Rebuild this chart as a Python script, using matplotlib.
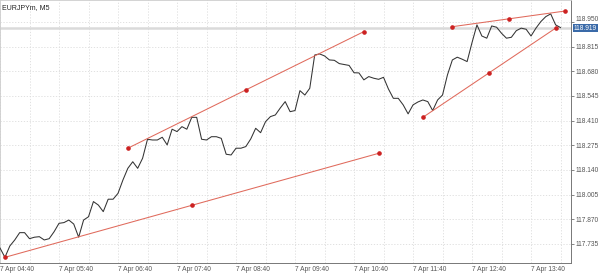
import numpy as np
import pandas as pd
import matplotlib
matplotlib.use('Agg')
import matplotlib.pyplot as plt
import matplotlib.transforms as mtransforms

plt.rcParams['font.family'] = ['Liberation Sans', 'DejaVu Sans']

symbol = "EURJPYm, M5"
start = "2025-04-07 04:40"

# closing prices, one per 5 minute bar
closes = [117.713, 117.662, 117.724, 117.757, 117.797, 117.797, 117.764, 117.772, 117.775, 117.757,
          117.764, 117.802, 117.848, 117.852, 117.866, 117.844, 117.772, 117.866, 117.884, 117.967,
          117.948, 117.912, 117.980, 117.980, 118.012, 118.085, 118.149, 118.185, 118.149, 118.204,
          118.308, 118.304, 118.304, 118.319, 118.277, 118.363, 118.350, 118.377, 118.363, 118.428,
          118.428, 118.308, 118.304, 118.322, 118.322, 118.313, 118.226, 118.222, 118.259, 118.259,
          118.268, 118.310, 118.368, 118.344, 118.404, 118.432, 118.441, 118.479, 118.514, 118.459,
          118.465, 118.574, 118.550, 118.587, 118.769, 118.775, 118.764, 118.742, 118.740, 118.722,
          118.717, 118.712, 118.672, 118.671, 118.633, 118.651, 118.642, 118.636, 118.647, 118.583,
          118.532, 118.532, 118.496, 118.447, 118.496, 118.512, 118.523, 118.514, 118.465, 118.523,
          118.550, 118.660, 118.742, 118.757, 118.746, 118.733, 118.837, 118.934, 118.873, 118.861,
          118.928, 118.921, 118.888, 118.861, 118.866, 118.902, 118.916, 118.910, 118.873, 118.916,
          118.952, 118.979, 118.994, 118.934, 118.919]
current_price = 118.919

# trend lines drawn by hand: (start time, start price, end time, end price)
trend_lines = [
    ("04:45", 117.662, "11:05", 118.231),
    ("06:50", 118.259, "10:50", 118.897),
    ("11:50", 118.428, "14:05", 118.916),
    ("12:20", 118.924, "14:15", 119.010),
]

yticks = [117.735, 117.870, 118.005, 118.140, 118.275, 118.410, 118.545, 118.680, 118.815, 118.950]

times = pd.date_range(start, periods=len(closes), freq="5min")
day = "2025-04-07 "

fig = plt.figure(figsize=(6.0, 2.78), dpi=100)
ax = fig.add_axes([0.0, 0.054, 0.9517, 0.946])

grid_kw = dict(color='#dcdcdc', linewidth=0.6, linestyle=(0, (1.5, 2)))

# grid: price ticks and every half hour
for v in yticks:
    ax.axhline(v, zorder=0, **grid_kw)
half_hours = pd.date_range(start, "2025-04-07 14:10", freq="30min")
for t in half_hours:
    ax.axvline(t, zorder=0, **grid_kw)

# current price line
ax.axhline(current_price, color='#dadada', linewidth=1.8, zorder=1)

ax.plot(times, closes, color='#333333', linewidth=0.75, zorder=3)

for t0, p0, t1, p1 in trend_lines:
    x0 = pd.Timestamp(day + t0)
    x1 = pd.Timestamp(day + t1)
    xm = x0 + (x1 - x0) / 2
    pm = (p0 + p1) / 2
    ax.plot([x0, x1], [p0, p1], color='#e06a5c', linewidth=0.75, zorder=4)
    ax.plot([x0, xm, x1], [p0, pm, p1], linestyle='none', marker='o',
            markersize=2.3, color='#cc2222', zorder=5)

ax.set_xlim(pd.Timestamp(start), pd.Timestamp(day + "14:20:40"))
ax.set_ylim(117.631, 119.070)

hours = pd.date_range(start, "2025-04-07 13:40", freq="60min")
ax.set_xticks(hours)
ax.set_xticklabels([t.strftime("7 Apr %H:%M") for t in hours], ha='left')
ax.set_yticks(yticks)
ax.set_yticklabels([f"{v:.3f}" for v in yticks])
ax.yaxis.tick_right()
ax.tick_params(axis='both', labelsize=4.8, colors='#555555', length=2, width=0.5, pad=1)
ax.tick_params(axis='x', length=0, pad=2)

# nudge the top price label up so the price tag does not hide it
top_lbl = ax.get_yticklabels()[-1]
top_lbl.set_transform(top_lbl.get_transform() +
                      mtransforms.ScaledTranslation(0, 2.5 / 72, fig.dpi_scale_trans))

for side in ['top', 'left']:
    ax.spines[side].set_color('#cccccc')
    ax.spines[side].set_linewidth(0.6)
for side in ['right', 'bottom']:
    ax.spines[side].set_color('#777777')
    ax.spines[side].set_linewidth(0.7)

ax.text(0.004, 0.985, symbol, transform=ax.transAxes, fontsize=5,
        color='#222222', ha='left', va='top')

# price tag on the right axis
trans = mtransforms.blended_transform_factory(ax.transAxes, ax.transData)
ax.text(1.005, current_price - 0.004, f"{current_price:.3f}", transform=trans, fontsize=4.8,
        color='white', ha='left', va='center', clip_on=False,
        bbox=dict(boxstyle='square,pad=0.1', facecolor='#3a6aa8', edgecolor='none'))

fig.savefig("out.png", dpi=100, facecolor='white')
